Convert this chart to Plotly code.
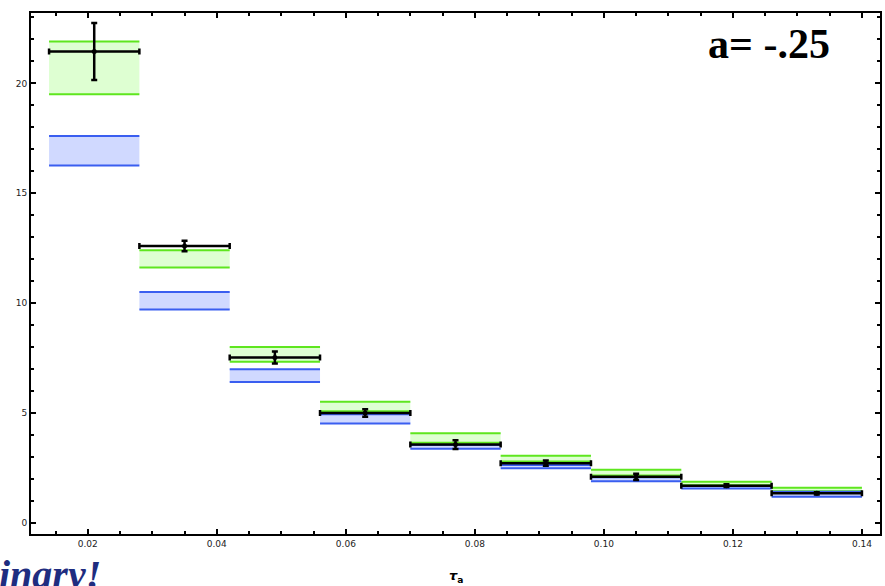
import plotly.graph_objects as go

# Bin edges (tau_a)
bin_lo = [0.014, 0.028, 0.042, 0.056, 0.070, 0.084, 0.098, 0.112, 0.126]
bin_hi = [0.028, 0.042, 0.056, 0.070, 0.084, 0.098, 0.112, 0.126, 0.140]

# Data points and errors
data_y = [21.45, 12.6, 7.53, 5.0, 3.57, 2.72, 2.1, 1.7, 1.35]
data_err = [1.3, 0.24, 0.27, 0.17, 0.2, 0.12, 0.14, 0.06, 0.05]

# Green band
green_lo = [19.5, 11.62, 7.33, 5.08, 3.65, 2.8, 2.16, 1.72, 1.45]
green_hi = [21.9, 12.41, 8.01, 5.52, 4.08, 3.06, 2.42, 1.88, 1.6]

# Blue band
blue_lo = [16.26, 9.71, 6.42, 4.53, 3.38, 2.49, 1.9, 1.57, 1.2]
blue_hi = [17.6, 10.51, 7.0, 4.95, 3.55, 2.64, 2.08, 1.68, 1.42]

x_tickvals = [0.02, 0.04, 0.06, 0.08, 0.10, 0.12, 0.14]
x_ticktext = ["0.02", "0.04", "0.06", "0.08", "0.10", "0.12", "0.14"]
y_tickvals = [0, 5, 10, 15, 20]
y_ticktext = ["0", "5", "10", "15", "20"]

fig = go.Figure()


def add_band(lo, hi, fillcolor, linecolor):
    for i in range(len(bin_lo)):
        fig.add_trace(go.Scatter(
            x=[bin_lo[i], bin_hi[i], bin_hi[i], bin_lo[i], bin_lo[i]],
            y=[lo[i], lo[i], hi[i], hi[i], lo[i]],
            fill="toself", fillcolor=fillcolor, mode="none",
            hoverinfo="skip", showlegend=False))
    xs, ys = [], []
    for i in range(len(bin_lo)):
        for v in (lo[i], hi[i]):
            xs += [bin_lo[i], bin_hi[i], None]
            ys += [v, v, None]
    fig.add_trace(go.Scatter(x=xs, y=ys, mode="lines",
                             line=dict(color=linecolor, width=2),
                             hoverinfo="skip", showlegend=False))


add_band(green_lo, green_hi, "rgba(200,255,180,0.6)", "#5ee61e")
add_band(blue_lo, blue_hi, "rgba(170,185,255,0.55)", "#3a5ef0")

centers = [(a + b) / 2 for a, b in zip(bin_lo, bin_hi)]
half_w = [(b - a) / 2 for a, b in zip(bin_lo, bin_hi)]

fig.add_trace(go.Scatter(
    x=centers, y=data_y, mode="markers",
    marker=dict(color="black", size=5),
    error_x=dict(type="data", array=half_w, color="black", thickness=2.5, width=3),
    error_y=dict(type="data", array=data_err, color="black", thickness=2.5, width=3),
    showlegend=False))

axis_common = dict(
    showline=True, linecolor="black", linewidth=2, mirror="ticks",
    ticks="inside", ticklen=5, tickwidth=1.5, tickcolor="black",
    showgrid=False, zeroline=False,
    tickfont=dict(family="DejaVu Sans", size=9, color="#222"),
)

fig.update_xaxes(range=[0.0112, 0.1428], tickvals=x_tickvals, ticktext=x_ticktext,
                 minor=dict(dtick=0.005, tick0=0, ticks="inside", ticklen=3,
                            tickcolor="black", tickwidth=1.5),
                 **axis_common)
fig.update_yaxes(range=[-0.5, 23.2], tickvals=y_tickvals, ticktext=y_ticktext,
                 minor=dict(dtick=1, tick0=0, ticks="inside", ticklen=3,
                            tickcolor="black", tickwidth=1.5),
                 **axis_common)

fig.add_annotation(text="<b>a= -.25</b>", xref="paper", yref="paper",
                   x=(771 - 31) / 851, y=1 - (44 - 13) / 521,
                   xanchor="center", yanchor="middle",
                   showarrow=False,
                   font=dict(family="Liberation Serif", size=42, color="black"))
fig.add_annotation(text="<b><i>inary!</i></b>", xref="paper", yref="paper",
                   x=-(31 + 3) / 851, y=-(574 - 534) / 521,
                   xanchor="left", yanchor="middle",
                   showarrow=False,
                   font=dict(family="Liberation Serif", size=40, color="#1f2d80"))
fig.add_annotation(text="<b><i>τ</i><sub>a</sub></b>", xref="paper", yref="paper",
                   x=(457 - 31) / 851, y=-(576 - 534) / 521,
                   xanchor="center", yanchor="middle", showarrow=False,
                   font=dict(family="DejaVu Sans", size=13, color="black"))

fig.update_layout(
    width=885, height=586,
    margin=dict(l=31, r=3, t=13, b=52),
    paper_bgcolor="white", plot_bgcolor="white",
    showlegend=False,
)

fig.write_html("out.html")
